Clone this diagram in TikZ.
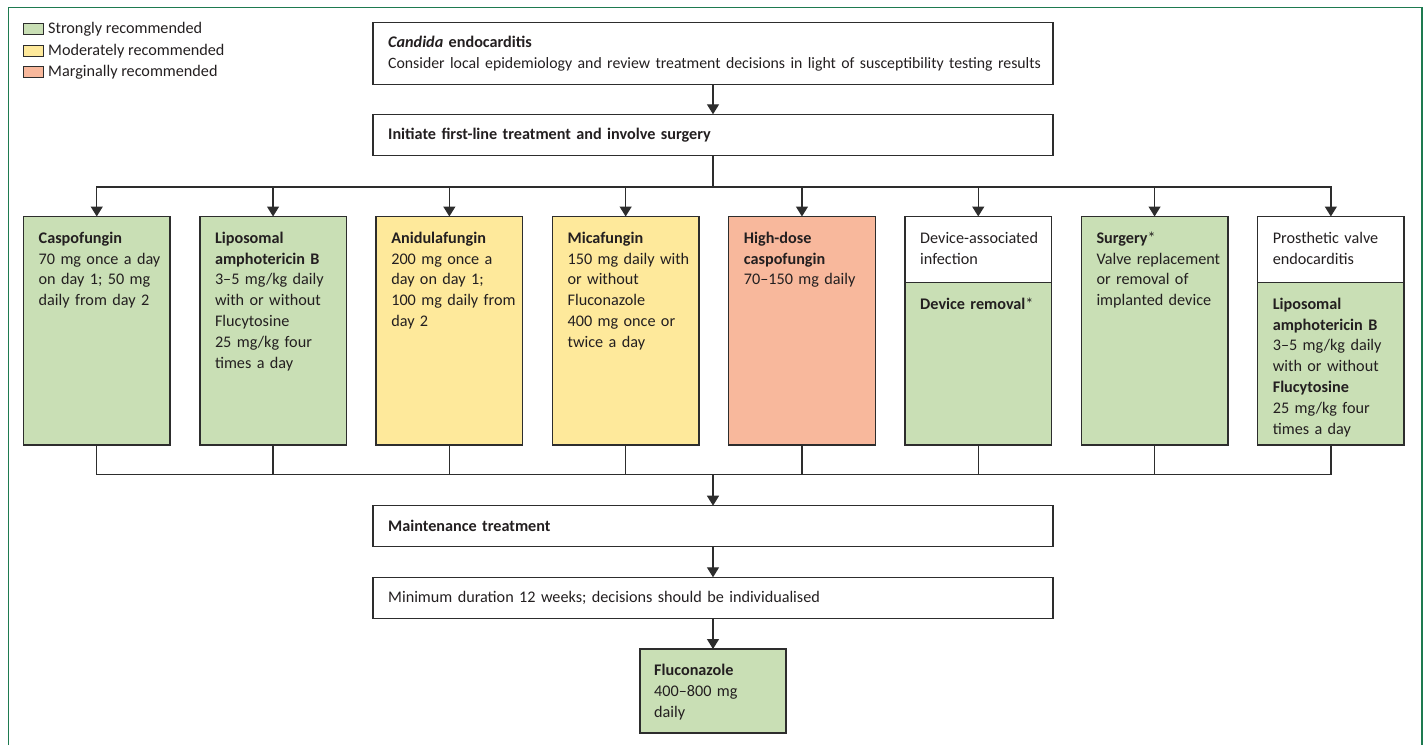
\documentclass[tikz,border=0pt]{standalone}
\usepackage{fontspec}
\setmainfont{Carlito}
\usetikzlibrary{arrows.meta}
\definecolor{gfill}{RGB}{201,223,181}
\definecolor{yfill}{RGB}{254,233,155}
\definecolor{rfill}{RGB}{248,184,156}
\definecolor{lc}{RGB}{45,45,45}
\definecolor{framec}{RGB}{30,122,80}
\definecolor{tc}{RGB}{35,31,32}
\newcommand\dfont{\fontsize{16.2}{20.8}\selectfont}
\newcommand\nfont{\fontsize{15.8}{20.8}\selectfont}
\begin{document}
\begin{tikzpicture}[x=1pt,y=-1pt,
  every node/.style={font=\dfont, text=tc},
  ln/.style={draw=lc, line width=1.3pt},
  arr/.style={draw=lc, line width=1.3pt, -{Triangle[length=10pt,width=12pt]}},
  colbox/.style={draw=lc, line width=1.4pt, anchor=north west, minimum width=146.5pt, inner sep=0pt, outer sep=0pt},
  widebox/.style={draw=lc, line width=1.4pt, anchor=north west, minimum width=680pt, inner sep=0pt, outer sep=0pt},
  widetxt/.style={anchor=west, inner sep=0pt, text width=700pt, align=left},
  coltxt/.style={anchor=north west, inner sep=0pt, text width=140pt, align=left},
  sw/.style={draw=lc, line width=1pt, minimum width=20pt, minimum height=11pt, inner sep=0pt, anchor=north west},
  legtxt/.style={anchor=base west, inner sep=0pt},
]
\useasboundingbox (0,0) rectangle (1424,745);
% outer frame
\draw[framec, line width=1.6pt] (8.3,745) -- (8.3,7.3) -- (1421.7,7.3) -- (1421.7,745);

% legend
\node[sw, fill=gfill] (lg1) at (23.3,23) {};
\node[legtxt] (lt1) at (48,33.5) {Strongly recommended};
\node[sw, fill=yfill] (lg2) at (23.3,44.5) {};
\node[legtxt] (lt2) at (48,55) {Moderately recommended};
\node[sw, fill=rfill] (lg3) at (23.3,66) {};
\node[legtxt] (lt3) at (48,76.5) {Marginally recommended};

% wide boxes
\node[widebox, minimum height=62pt] (top) at (373,22.3) {};
\node[widetxt] (ttop) at ([xshift=15pt]top.west)
  {\textbf{\textit{Candida} endocarditis}\\{\nfont Consider local epidemiology and review treatment decisions in light of susceptibility testing results}};
\node[widebox, minimum height=41.4pt] (init) at (373,114.3) {};
\node[widetxt] (tinit) at ([xshift=15pt]init.west)
  {\textbf{Initiate first-line treatment and involve surgery}};
\node[widebox, minimum height=41pt] (maint) at (373,505.7) {};
\node[widetxt] (tmaint) at ([xshift=15pt]maint.west)
  {\textbf{Maintenance treatment}};
\node[widebox, minimum height=41.3pt] (mind) at (373,577.3) {};
\node[widetxt] (tmind) at ([xshift=15pt]mind.west)
  {Minimum duration 12 weeks; decisions should be individualised};

% column boxes
\node[colbox, fill=gfill, minimum height=228.5pt] (b1) at (23.5,216.5) {};
\node[coltxt] (t1) at ([xshift=15pt,yshift=-12pt]b1.north west)
  {\strut\textbf{Caspofungin}\\70 mg once a day\\on day 1; 50 mg\\daily from day 2};

\node[colbox, fill=gfill, minimum height=228.5pt] (b2) at (199.8,216.5) {};
\node[coltxt] (t2) at ([xshift=15pt,yshift=-12pt]b2.north west)
  {\strut\textbf{Liposomal}\\\textbf{amphotericin B}\\3–5 mg/kg daily\\with or without\\Flucytosine\\25 mg/kg four\\times a day};

\node[colbox, fill=yfill, minimum height=228.5pt] (b3) at (376.1,216.5) {};
\node[coltxt] (t3) at ([xshift=15pt,yshift=-12pt]b3.north west)
  {\strut\textbf{Anidulafungin}\\200 mg once a\\day on day 1;\\100 mg daily from\\day 2};

\node[colbox, fill=yfill, minimum height=228.5pt] (b4) at (552.4,216.5) {};
\node[coltxt] (t4) at ([xshift=15pt,yshift=-12pt]b4.north west)
  {\strut\textbf{Micafungin}\\150 mg daily with\\or without\\Fluconazole\\400 mg once or\\twice a day};

\node[colbox, fill=rfill, minimum height=228.5pt] (b5) at (728.7,216.5) {};
\node[coltxt] (t5) at ([xshift=15pt,yshift=-12pt]b5.north west)
  {\strut\textbf{High-dose}\\\textbf{caspofungin}\\70–150 mg daily};

\node[colbox, fill=white, minimum height=66pt] (b6h) at (905,216.5) {};
\node[coltxt] (t6h) at ([xshift=15pt,yshift=-12pt]b6h.north west)
  {\strut Device-associated\\infection};
\node[colbox, fill=gfill, minimum height=162.5pt] (b6b) at (905,282.5) {};
\node[coltxt] (t6b) at ([xshift=15pt,yshift=-12pt]b6b.north west)
  {\strut\textbf{Device removal}*};

\node[colbox, fill=gfill, minimum height=228.5pt] (b7) at (1081.3,216.5) {};
\node[coltxt] (t7) at ([xshift=15pt,yshift=-12pt]b7.north west)
  {\strut\textbf{Surgery}*\\Valve replacement\\or removal of\\implanted device};

\node[colbox, fill=white, minimum height=66pt] (b8h) at (1257.6,216.5) {};
\node[coltxt] (t8h) at ([xshift=15pt,yshift=-12pt]b8h.north west)
  {\strut Prosthetic valve\\endocarditis};
\node[colbox, fill=gfill, minimum height=162.5pt] (b8b) at (1257.6,282.5) {};
\node[coltxt] (t8b) at ([xshift=15pt,yshift=-12pt]b8b.north west)
  {\strut\textbf{Liposomal}\\\textbf{amphotericin B}\\3–5 mg/kg daily\\with or without\\\textbf{Flucytosine}\\25 mg/kg four\\times a day};

% fluconazole
\node[colbox, fill=gfill, minimum width=146pt, minimum height=84pt] (flu) at (640,649) {};
\node[coltxt] (tflu) at ([xshift=14pt,yshift=-12pt]flu.north west)
  {\strut\textbf{Fluconazole}\\400–800 mg\\daily};

% bus coordinates
\coordinate (bt) at (713,187);
\coordinate (bb) at (713,474.5);

% connectors
\draw[arr] (top.south) -- (init.north);
\foreach \b in {b1,b2,b3,b4,b5,b6h,b7,b8h}{
  \draw[arr] (init.south) -- (bt) -| (\b.north);
}
\foreach \b in {b1,b2,b3,b4,b5,b6b,b7,b8b}{
  \draw[ln] (\b.south) |- (bb);
}
\draw[arr] (bb) -- (maint.north);
\draw[arr] (maint.south) -- (mind.north);
\draw[arr] (mind.south) -- (flu.north);
\end{tikzpicture}
\end{document}
